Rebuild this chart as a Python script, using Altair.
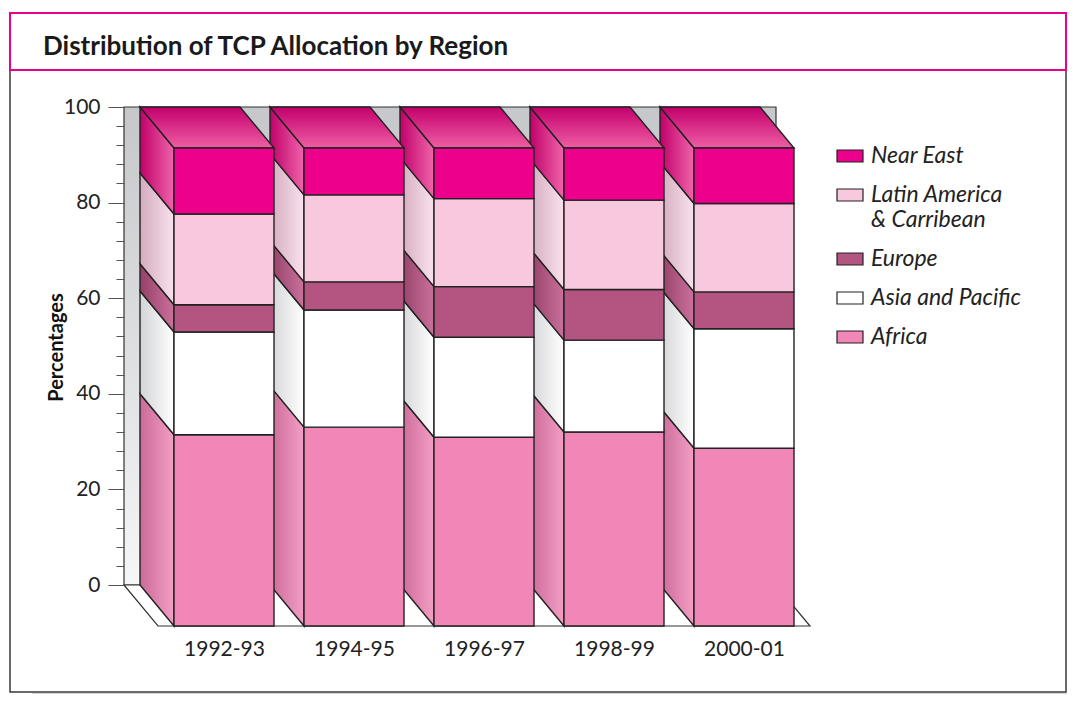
import altair as alt
import pandas as pd

# ---- data ----
categories = ["1992-93", "1994-95", "1996-97", "1998-99", "2000-01"]
regions = ["Africa", "Asia and Pacific", "Europe", "Latin America & Carribean", "Near East"]
africa = [40.0, 41.6, 39.5, 40.6, 37.2]
asia_pacific = [21.5, 24.5, 20.9, 19.2, 25.0]
europe = [5.7, 5.9, 10.6, 10.6, 7.7]
latin_america = [19.0, 18.2, 18.4, 18.7, 18.5]
near_east = [13.8, 9.8, 10.6, 10.9, 11.6]
y_tick_values = list(range(0, 101, 4))
title_text = "Distribution of TCP Allocation by Region"
y_title = "Percentages"

series = [africa, asia_pacific, europe, latin_america, near_east]

# ---- styles ----
front_colors = ["#f087b6", "#ffffff", "#b35580", "#f8c8de", "#ec008c"]
side_colors = [("#cb6a98", "#f39ec5"), ("#d3d4d7", "#ffffff"), ("#954068", "#ca719b"),
               ("#d4abbf", "#f9e2ed"), ("#c0006a", "#f064aa")]
top_colors = ("#c3006c", "#ef5ea4")
EDGE = "#222222"
FONT = "Lato"

# 3D geometry (in data units: 1 x-unit = one category step)
HALF = 50 / 130
DX = 34 / 130
M = 16 / 130
DY = 41 / 4.78
n = len(categories)
wall_l = -HALF - DX - M
wall_r = (n - 1) + HALF - DX + M
xmin, xmax = wall_l, (n - 1) + HALF + M
PW = round((xmax - xmin) * 130)
PH = round((100 + DY) * 4.78)
TOTAL_W, TOTAL_H = 1059, 686

front_rows, side_rows, top_rows = [], [], []
for i, cat in enumerate(categories):
    base = 0.0
    for r, vals in zip(regions, series):
        v0, v1 = base, base + vals[i]
        base = v1
        front_rows.append(dict(cat=cat, region=r, x0=i - HALF, x1=i + HALF, y0=v0 - DY, y1=v1 - DY))
        side_rows.append(dict(cat=cat, region=r, x=i - HALF - DX, lo=v0, hi=v1))
        side_rows.append(dict(cat=cat, region=r, x=i - HALF, lo=v0 - DY, hi=v1 - DY))
    top_rows.append(dict(cat=cat, y=base, xa=i - HALF - DX, xb=i + HALF - DX))
    top_rows.append(dict(cat=cat, y=base - DY, xa=i - HALF, xb=i + HALF))

front_df = pd.DataFrame(front_rows)
side_df = pd.DataFrame(side_rows)
top_df = pd.DataFrame(top_rows)

xscale = alt.Scale(domain=[xmin, xmax], nice=False, zero=False)
yscale = alt.Scale(domain=[-DY, 100], nice=False, zero=False)

cat_expr = "[" + ",".join("'" + c + "'" for c in categories) + "][datum.value]"

yaxis = alt.Axis(values=y_tick_values,
                 labelExpr="datum.value % 20 === 0 ? datum.label : ''",
                 tickSize={"condition": {"test": "datum.value % 20 === 0", "value": 16}, "value": 8},
                 tickColor="#555555", tickWidth=1, domain=False, grid=False,
                 labelFont=FONT, labelFontSize=21, labelColor="#222222", labelPadding=8,
                 title=y_title, titleFont=FONT, titleFontSize=20, titleFontWeight="bold",
                 titleColor="#111111", titleAngle=270, titleX=-68, titleY=240,
                 titleBaseline="middle", titleAlign="center", zindex=1)
xaxis = alt.Axis(values=list(range(n)), labelExpr=cat_expr, ticks=False, domain=False,
                 grid=False, labelFont=FONT, labelFontSize=21, labelColor="#222222",
                 labelPadding=12, title=None, zindex=1)


def X(field):
    return alt.X(field, type="quantitative", scale=xscale, axis=xaxis)


def Y(field):
    return alt.Y(field, type="quantitative", scale=yscale, axis=yaxis)


def vgrad(c0, c1):
    return alt.LinearGradient(gradient="linear",
                              stops=[alt.GradientStop(color=c0, offset=0), alt.GradientStop(color=c1, offset=1)],
                              x1=0, x2=0, y1=0, y2=1)


def hgrad(c0, c1):
    return alt.LinearGradient(gradient="linear",
                              stops=[alt.GradientStop(color=c0, offset=0), alt.GradientStop(color=c1, offset=1)],
                              x1=0, x2=1, y1=0, y2=0)


one = pd.DataFrame([{"a": 0}])

# decorations (frame, shadow, title box) in pixels relative to plot origin
fr_l, fr_r, fr_t, fr_b = -114, 942, -94, PH + 66
shadow_r = alt.Chart(one).mark_rect(fill="#d3d4d6").encode(
    x=alt.value(fr_r + 1), x2=alt.value(fr_r + 8), y=alt.value(fr_t + 22), y2=alt.value(fr_b + 12))
shadow_b = alt.Chart(one).mark_rect(fill="#d3d4d6").encode(
    x=alt.value(fr_l + 22), x2=alt.value(fr_r + 8), y=alt.value(fr_b + 1), y2=alt.value(fr_b + 12))
frame = alt.Chart(one).mark_rect(fill=None, stroke="#3a3a3a", strokeWidth=1.5).encode(
    x=alt.value(fr_l), x2=alt.value(fr_r), y=alt.value(fr_t), y2=alt.value(fr_b))
title_box = alt.Chart(one).mark_rect(fill="white", stroke="#e8008b", strokeWidth=2).encode(
    x=alt.value(fr_l), x2=alt.value(fr_r), y=alt.value(fr_t), y2=alt.value(-37))
title_mark = alt.Chart(pd.DataFrame([{"t": title_text}])).mark_text(
    align="left", baseline="alphabetic", font=FONT, fontSize=26, fontWeight="bold", color="#1a1a1a").encode(
    x=alt.value(-81), y=alt.value(-52), text="t:N")

wall = alt.Chart(pd.DataFrame([dict(x0=wall_l, x1=wall_r, y0=0, y1=100)])).mark_rect(
    fill=vgrad("#c5c7ca", "#f6f6f7"), stroke="#333333", strokeWidth=1.2).encode(
    x=X("x0"), x2="x1", y=Y("y0"), y2="y1")

floor = alt.Chart(pd.DataFrame([dict(y=0, xa=wall_l, xb=wall_r),
                                dict(y=-DY, xa=wall_l + DX, xb=wall_r + DX)])).mark_area(
    orient="horizontal", fill="white", stroke="#333333", strokeWidth=1.2).encode(
    y=Y("y"), x=X("xa"), x2="xb")

side_layers = []
for r, (c0, c1) in zip(regions, side_colors):
    side_layers.append(
        alt.Chart(side_df[side_df.region == r]).mark_area(
            orient="vertical", fill=hgrad(c0, c1), stroke=EDGE, strokeWidth=1.4).encode(
            x=X("x"), y=Y("lo"), y2="hi", detail="cat:N"))

tops = alt.Chart(top_df).mark_area(
    orient="horizontal", fill=vgrad(*top_colors), stroke=EDGE, strokeWidth=1.4).encode(
    y=Y("y"), x=X("xa"), x2="xb", detail="cat:N")

legend_order = regions[::-1]
legend_colors = front_colors[::-1]

front = alt.Chart(front_df).mark_rect(stroke=EDGE, strokeWidth=1.4).encode(
    x=X("x0"), x2="x1", y=Y("y0"), y2="y1",
    color=alt.Color("region:N", scale=alt.Scale(domain=legend_order, range=legend_colors),
                    legend=alt.Legend(
                        title=None, orient="none", legendX=712, legendY=35,
                        symbolType="M-1,-0.46H1V0.46H-1Z", symbolSize=676,
                        symbolStrokeColor=EDGE, symbolStrokeWidth=1.2,
                        labelFont=FONT, labelFontStyle="italic", labelFontSize=23,
                        labelColor="#222222", labelOffset=7, rowPadding=13,
                        labelExpr="indexof(datum.label, ' & ') > 0 ? [slice(datum.label, 0, indexof(datum.label, ' & ')), slice(datum.label, indexof(datum.label, ' & ') + 1)] : datum.label",
                        zindex=1)),
)

chart = alt.layer(shadow_r, shadow_b, frame, title_box, title_mark, wall, floor,
                  *side_layers, tops, front).properties(
    width=PW, height=PH,
    autosize=alt.AutoSizeParams(type="none"),
    padding={"left": 116, "top": 99, "right": TOTAL_W - 116 - PW, "bottom": TOTAL_H - 99 - PH},
).configure_view(stroke=None)

chart.save("out.html", embed_options={"renderer": "svg", "actions": False})
